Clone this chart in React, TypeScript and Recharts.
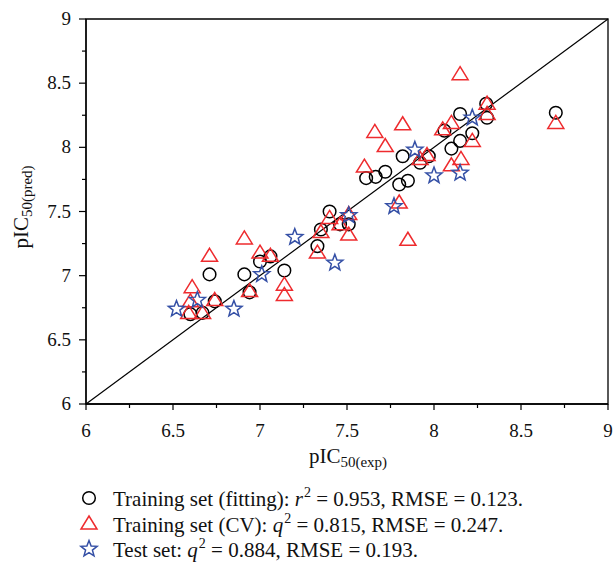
import { ScatterChart, Scatter, XAxis, YAxis, ReferenceLine, ReferenceArea } from 'recharts';

// training set, fitted predictions
const FIT_EXP = [6.6, 6.67, 6.71, 6.74, 6.91, 6.94, 7.0, 7.06, 7.14, 7.33, 7.35, 7.4, 7.46, 7.51, 7.61, 7.665, 7.72, 7.8, 7.85, 7.82, 7.92, 7.97, 8.06, 8.1, 8.15, 8.15, 8.22, 8.3, 8.305, 8.7];
const FIT_PRED = [6.7, 6.71, 7.01, 6.8, 7.01, 6.87, 7.11, 7.15, 7.04, 7.23, 7.36, 7.5, 7.4, 7.4, 7.76, 7.77, 7.81, 7.71, 7.74, 7.93, 7.88, 7.93, 8.13, 7.99, 8.05, 8.26, 8.11, 8.34, 8.23, 8.27];

// training set, cross-validated predictions
const CV_EXP = [6.59, 6.67, 6.6, 6.61, 6.71, 6.74, 6.91, 6.94, 7.0, 7.06, 7.14, 7.14, 7.33, 7.35, 7.4, 7.46, 7.51, 7.51, 7.6, 7.66, 7.72, 7.8, 7.82, 7.85, 7.92, 7.96, 8.05, 8.1, 8.1, 8.155, 8.15, 8.22, 8.305, 8.305, 8.7];
const CV_PRED = [6.71, 6.71, 6.8, 6.91, 7.155, 6.81, 7.29, 6.88, 7.18, 7.155, 6.93, 6.85, 7.18, 7.34, 7.45, 7.4, 7.32, 7.48, 7.85, 8.12, 8.01, 7.57, 8.18, 7.28, 7.91, 7.94, 8.14, 8.19, 7.86, 7.91, 8.57, 8.05, 8.34, 8.26, 8.19];

// test set
const TEST_EXP = [6.52, 6.64, 6.85, 7.01, 7.2, 7.43, 7.51, 7.77, 7.89, 8.0, 8.15, 8.22];
const TEST_PRED = [6.74, 6.81, 6.74, 7.01, 7.3, 7.1, 7.47, 7.54, 7.98, 7.78, 7.8, 8.23];

const TICKS = [6, 6.25, 6.5, 6.75, 7, 7.25, 7.5, 7.75, 8, 8.25, 8.5, 8.75, 9];

const LEGEND = [
  { label: 'Training set (fitting): ', stat: 'r', rest: ' = 0.953, RMSE = 0.123.' },
  { label: 'Training set (CV): ', stat: 'q', rest: ' = 0.815, RMSE = 0.247.' },
  { label: 'Test set: ', stat: 'q', rest: ' = 0.884, RMSE = 0.193.' },
];

const RED = '#ee2b2e';
const BLUE = '#3550a6';
const FONT = '"Liberation Serif", "DejaVu Serif", serif';

const pairs = (xs: number[], ys: number[]) => xs.map((x, i) => ({ x, y: ys[i] }));

const isMajor = (v: number) => Math.abs(v * 2 - Math.round(v * 2)) < 1e-6;

const XTick = ({ x, y, payload }: any) => {
  const major = isMajor(payload.value);
  return (
    <g>
      <line x1={x} x2={x} y1={y} y2={y + (major ? 6 : 4)} stroke="#000" strokeWidth={1.2} />
      {major && (
        <text x={x} y={y + 33} textAnchor="middle" fontSize={19} fontFamily={FONT} fill="#111">
          {String(payload.value)}
        </text>
      )}
    </g>
  );
};

const YTick = ({ x, y, payload }: any) => {
  const major = isMajor(payload.value);
  return (
    <g>
      <line x1={x} x2={x - (major ? 7 : 4)} y1={y} y2={y} stroke="#000" strokeWidth={1.2} />
      {major && (
        <text x={x - 15} y={y + 6} textAnchor="end" fontSize={19} fontFamily={FONT} fill="#111">
          {String(payload.value)}
        </text>
      )}
    </g>
  );
};

const CircleMark = ({ cx, cy }: any) => (
  <circle cx={cx} cy={cy} r={6.3} fill="none" stroke="#000" strokeWidth={1.5} />
);

const TriMark = ({ cx, cy }: any) => (
  <path d={`M${cx},${cy - 7.5} L${cx + 8},${cy + 5.5} L${cx - 8},${cy + 5.5} Z`} fill="none" stroke={RED} strokeWidth={1.5} />
);

const starPath = (cx: number, cy: number, ro: number, ri: number) => {
  const pts: string[] = [];
  for (let i = 0; i < 10; i++) {
    const r = i % 2 === 0 ? ro : ri;
    const a = -Math.PI / 2 + (i * Math.PI) / 5;
    pts.push(`${cx + r * Math.cos(a)},${cy + r * Math.sin(a)}`);
  }
  return `M${pts.join(' L')} Z`;
};

const StarMark = ({ cx, cy }: any) => (
  <path d={starPath(cx, cy, 8.5, 3.6)} fill="none" stroke={BLUE} strokeWidth={1.5} />
);

const MARKS = [CircleMark, TriMark, StarMark];

export default function App() {
  return (
    <div style={{ position: 'absolute', left: 0, top: 0, width: 614, height: 565, background: '#fff' }}>
      <ScatterChart width={614} height={565} margin={{ top: 19, right: 6, bottom: 131, left: 26 }}>
        <XAxis
          type="number"
          dataKey="x"
          domain={[6, 9]}
          ticks={TICKS}
          interval={0}
          height={30}
          tickSize={0}
          tickMargin={0}
          tickLine={false}
          tick={<XTick />}
          axisLine={{ stroke: '#000', strokeWidth: 1.3 }}
          allowDataOverflow
        />
        <YAxis
          type="number"
          dataKey="y"
          domain={[6, 9]}
          ticks={TICKS}
          interval={0}
          width={60}
          tickSize={0}
          tickMargin={0}
          tickLine={false}
          tick={<YTick />}
          axisLine={{ stroke: '#000', strokeWidth: 1.3 }}
          allowDataOverflow
        />
        <ReferenceArea x1={6} x2={9} y1={6} y2={9} fill="none" stroke="#000" strokeWidth={1.3} />
        <ReferenceLine segment={[{ x: 6, y: 6 }, { x: 9, y: 9 }]} stroke="#000" strokeWidth={1.2} />
        <Scatter data={pairs(FIT_EXP, FIT_PRED)} shape={<CircleMark />} isAnimationActive={false} />
        <Scatter data={pairs(CV_EXP, CV_PRED)} shape={<TriMark />} isAnimationActive={false} />
        <Scatter data={pairs(TEST_EXP, TEST_PRED)} shape={<StarMark />} isAnimationActive={false} />
      </ScatterChart>

      {/* axis titles and legend */}
      <svg
        style={{ position: 'absolute', left: 0, top: 0, pointerEvents: 'none' }}
        width={614}
        height={565}
        fontFamily={FONT}
        fill="#111"
      >
        <text x={348} y={463} textAnchor="middle" fontSize={21}>
          pIC<tspan fontSize={15} dy={4}>50(exp)</tspan>
        </text>
        <text x={0} y={0} textAnchor="middle" fontSize={21} transform="translate(28 207) rotate(-90)">
          pIC<tspan fontSize={15} dy={4}>50(pred)</tspan>
        </text>
        {LEGEND.map((item, i) => {
          const Mark = MARKS[i];
          const base = 506 + i * 25.5;
          return (
            <g key={item.label}>
              <Mark cx={89} cy={base - 8} />
              <text x={113} y={base} fontSize={21}>
                {item.label}
                <tspan fontStyle="italic">{item.stat}</tspan>
                <tspan fontSize={14} dy={-9} dx={1}>2</tspan>
                <tspan dy={9}>{item.rest}</tspan>
              </text>
            </g>
          );
        })}
      </svg>
    </div>
  );
}
